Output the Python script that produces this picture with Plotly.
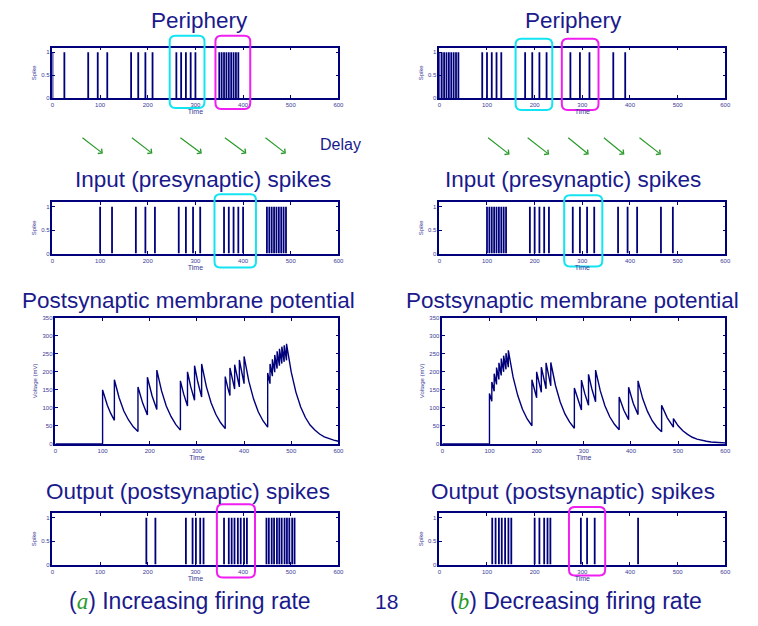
import plotly.graph_objects as go

# ---------------------------------------------------------------- data
TIME_TICKS = [0, 100, 200, 300, 400, 500, 600]
SPIKE_TICKS = [0, 0.5, 1]
VOLT_TICKS = [0, 50, 100, 150, 200, 250, 300, 350]

# (a) increasing firing rate
periph_a = [0, 25, 75, 95, 115, 165, 180, 195, 210, 260, 270, 280, 290, 300,
            350, 355, 360, 365, 370, 375, 380, 385, 390]
input_a = [100, 125, 175, 195, 215, 265, 280, 295, 310, 360, 370, 380, 390, 400,
           450, 455, 460, 465, 470, 475, 480, 485, 490]
output_a = [197, 216, 280, 294, 301, 310, 317, 360, 370, 376, 382, 389, 395, 402,
            408, 449, 454, 460, 465, 471, 476, 481, 487, 492, 497, 503, 508]
memb_a_t = [0, 100, 100, 110, 117, 125, 125, 135, 145, 155, 165, 175, 175, 185,
            195, 195, 205, 215, 215, 225, 235, 245, 255, 265, 265, 272, 280, 280,
            287, 295, 295, 302, 310, 310, 320, 330, 340, 350, 360, 360, 365, 370,
            370, 375, 380, 380, 385, 390, 390, 395, 400, 400, 410, 420, 430, 440,
            450, 450, 455, 455, 460, 460, 465, 465, 470, 470, 475, 475, 480, 480,
            485, 485, 490, 490, 500, 510, 520, 530, 540, 550, 560, 570, 580, 590,
            600]
memb_a_v = [0, 0, 150, 107, 85, 65, 178, 128, 91, 66, 47, 34, 158, 113,
            80, 185, 133, 95, 205, 147, 105, 76, 54, 38, 175, 138, 105, 200,
            158, 121, 217, 171, 130, 222, 159, 114, 82, 59, 42, 187, 158, 134,
            211, 179, 152, 220, 186, 158, 233, 197, 167, 243, 174, 125, 89, 64,
            46, 197, 167, 222, 188, 235, 199, 247, 209, 257, 217, 264, 223, 270,
            228, 274, 232, 278, 199, 143, 102, 73, 52, 38, 27, 19, 14, 10,
            7]

# (b) decreasing firing rate
periph_b = [0, 5, 10, 15, 20, 25, 30, 35, 40, 90, 100, 110, 120, 130,
            180, 195, 210, 225, 275, 295, 315, 365, 390]
input_b = [100, 105, 110, 115, 120, 125, 130, 135, 140, 190, 200, 210, 220, 230,
           280, 295, 310, 325, 375, 395, 415, 465, 490]
output_b = [111, 118, 125, 131, 138, 145, 151, 200, 210, 220, 227, 233,
            297, 310, 326, 417]
memb_b_t = [0, 100, 100, 105, 105, 110, 110, 115, 115, 120, 120, 125, 125, 130,
            130, 135, 135, 140, 140, 150, 160, 170, 180, 190, 190, 200, 200, 210,
            210, 220, 220, 230, 230, 240, 250, 260, 270, 280, 280, 287, 295, 295,
            302, 310, 310, 317, 325, 325, 335, 345, 355, 365, 375, 375, 385, 395,
            395, 405, 415, 415, 425, 435, 445, 455, 465, 465, 477, 490, 490, 500,
            510, 520, 530, 540, 550, 560, 570, 580, 590, 600]
memb_b_v = [0, 0, 140, 118, 172, 146, 195, 165, 212, 179, 225, 190, 237, 200,
            245, 207, 252, 213, 260, 186, 134, 96, 69, 50, 178, 128, 200, 143,
            213, 153, 225, 161, 226, 162, 116, 83, 60, 43, 155, 123, 94, 177,
            140, 107, 193, 153, 117, 205, 147, 105, 75, 54, 39, 130, 93, 67,
            157, 112, 81, 175, 125, 90, 64, 46, 33, 107, 72, 46, 70, 50,
            36, 26, 18, 13, 9, 7, 5, 3.5, 2.5, 2]

# ---------------------------------------------------------------- style
W, H = 758, 626
NAVY = "#00007a"
TEXT_NAVY = "#1a1a8c"
TICK_COL = "#3a3a96"
CYAN = "#12e4f2"
MAGENTA = "#f01ef0"
GREEN = "#2a9a2a"
FONT = "Liberation Sans, Arial, sans-serif"


def px_x(p):
    return p / W


def px_y(p):
    return 1 - p / H


def spikes_xy(times):
    xs, ys = [], []
    for t in times:
        xs += [t, t, None]
        ys += [0, 1, None]
    return xs, ys


# axes placement in pixels: (left, right), (top, bottom)
panels = [
    (1, (51, 340), (45, 96), "spike"),
    (2, (51, 340), (201, 253), "spike"),
    (3, (54, 340), (318, 445), "volt"),
    (4, (51, 340), (515, 567), "spike"),
    (5, (442, 731), (45, 96), "spike"),
    (6, (442, 731), (201, 253), "spike"),
    (7, (445, 731), (318, 445), "volt"),
    (8, (442, 731), (515, 567), "spike"),
]

fig = go.Figure()

series = {
    1: ("spike", periph_a), 2: ("spike", input_a),
    3: ("volt", (memb_a_t, memb_a_v)), 4: ("spike", output_a),
    5: ("spike", periph_b), 6: ("spike", input_b),
    7: ("volt", (memb_b_t, memb_b_v)), 8: ("spike", output_b),
}

layout_axes = {}
for pid, (xl, xr), (yt, yb), kind in panels:
    sfx = "" if pid == 1 else str(pid)
    xname, yname = "x" + sfx, "y" + sfx
    k, d = series[pid]
    if k == "spike":
        xs, ys = spikes_xy(d)
        fig.add_trace(go.Scatter(x=xs, y=ys, mode="lines",
                                 line=dict(color=NAVY, width=1.8),
                                 xaxis=xname, yaxis=yname,
                                 hoverinfo="skip", showlegend=False))
    else:
        fig.add_trace(go.Scatter(x=d[0], y=d[1], mode="lines",
                                 line=dict(color=NAVY, width=1.4),
                                 xaxis=xname, yaxis=yname,
                                 hoverinfo="skip", showlegend=False))
    common = dict(showline=True, linecolor=NAVY, linewidth=1.5, mirror="ticks",
                  ticks="inside", ticklen=3, tickwidth=1, tickcolor=NAVY,
                  showgrid=False, zeroline=False,
                  tickfont=dict(family=FONT, size=6, color=TICK_COL))
    layout_axes["xaxis" + sfx] = dict(
        common, domain=[px_x(xl), px_x(xr)], anchor=yname,
        range=[0, 600], tickvals=TIME_TICKS,
        title=dict(text="Time", standoff=1,
                   font=dict(family=FONT, size=7, color=TICK_COL)))
    if kind == "spike":
        ya = dict(range=[0, 1.1], tickvals=SPIKE_TICKS,
                  ticktext=["0", "0.5", "1"])
        ytitle = "Spike"
    else:
        ya = dict(range=[0, 350], tickvals=VOLT_TICKS)
        ytitle = "Voltage (mV)"
    layout_axes["yaxis" + sfx] = dict(
        common, domain=[px_y(yb), px_y(yt)], anchor=xname,
        title=dict(text=ytitle, standoff=4,
                   font=dict(family=FONT, size=6, color=TICK_COL)), **ya)

# ---------------------------------------------------------------- text
annotations = []


def label(text, x, y, size=22.5, color=TEXT_NAVY):
    annotations.append(dict(text=text, x=px_x(x), y=px_y(y), xref="paper",
                            yref="paper", showarrow=False, xanchor="center",
                            yanchor="middle",
                            font=dict(family=FONT, size=size, color=color)))


label("Periphery", 200, 18)
label("Periphery", 578, 18)
label("Input (presynaptic) spikes", 203, 178)
label("Input (presynaptic) spikes", 577, 178)
label("Postsynaptic membrane potential", 188, 300)
label("Postsynaptic membrane potential", 577, 300)
label("Output (postsynaptic) spikes", 188, 493)
label("Output (postsynaptic) spikes", 577, 493)
label("Delay", 342, 143, size=16)

ital = ("<span style='font-family:Liberation Serif;font-style:italic;"
        "color:%s'>%s</span>")
label("(" + ital % (GREEN, "a") + ") Increasing firing rate", 190, 604, size=23)
label("18", 389, 604, size=21)
label("(" + ital % (GREEN, "b") + ") Decreasing firing rate", 580, 604, size=23)

# delay arrows: (tail x, tail y, head x, head y) in pixels
arrows = [(80, 135, 102, 152), (130, 135, 152, 152), (179, 135, 202, 152),
          (224, 135, 247, 152), (265, 135, 287, 152),
          (490, 135, 513, 153), (530, 135, 553, 153), (571, 135, 593, 153),
          (607, 135, 629, 153), (643, 135, 666, 153)]
for x0, y0, x1, y1 in arrows:
    annotations.append(dict(x=px_x(x1), y=px_y(y1), xref="paper", yref="paper",
                            ax=x0 - x1, ay=y0 - y1, text="", showarrow=True,
                            arrowhead=4, arrowsize=1, arrowwidth=1.2,
                            arrowcolor=GREEN, standoff=0, startstandoff=0))

# ---------------------------------------------------------------- highlight boxes
# (axis, t0, t1, top px, bottom px, colour)
boxes = [("x", 246, 319, 33, 106, CYAN), ("x", 342, 415, 33, 107, MAGENTA),
         ("x2", 340, 427, 193, 267, CYAN), ("x4", 345, 425, 506, 580, MAGENTA),
         ("x5", 160, 237, 36, 108, CYAN), ("x5", 257, 334, 36, 108, MAGENTA),
         ("x6", 262, 342, 194, 266, CYAN), ("x8", 272, 348, 509, 578, MAGENTA)]
shapes = []
for ax, t0, t1, top, bot, col in boxes:
    rx = 12  # corner radius in time units
    ry = 6 / H
    y0, y1 = px_y(bot), px_y(top)
    path = (f"M{t0 + rx},{y1} L{t1 - rx},{y1} Q{t1},{y1} {t1},{y1 - ry} "
            f"L{t1},{y0 + ry} Q{t1},{y0} {t1 - rx},{y0} L{t0 + rx},{y0} "
            f"Q{t0},{y0} {t0},{y0 + ry} L{t0},{y1 - ry} Q{t0},{y1} {t0 + rx},{y1} Z")
    shapes.append(dict(type="path", path=path, xref=ax, yref="paper",
                       line=dict(color=col, width=2), layer="above"))

fig.update_layout(width=W, height=H, margin=dict(l=0, r=0, t=0, b=0),
                  paper_bgcolor="white", plot_bgcolor="white",
                  annotations=annotations, shapes=shapes, **layout_axes)

fig.write_html("out.html")
